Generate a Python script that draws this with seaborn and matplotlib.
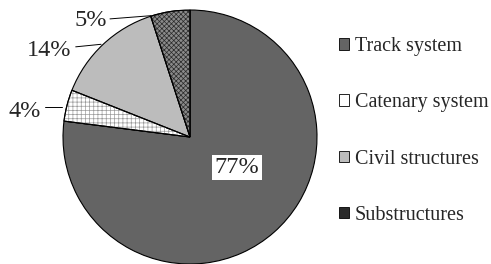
import matplotlib
matplotlib.use('Agg')
import matplotlib.pyplot as plt
import seaborn as sns
from matplotlib.patches import Patch, Wedge

sns.set_style("white")
plt.rcParams['font.family'] = ['Liberation Serif', 'DejaVu Serif']
plt.rcParams['hatch.linewidth'] = 0.5

categories = ['Track system', 'Catenary system', 'Civil structures', 'Substructures']
shares = [77, 4, 14, 5]
pct_labels = ['77%', '4%', '14%', '5%']
colors = ['#646464', '#ffffff', '#bcbcbc', '#8a8a8a']
hatches = [None, '++++', None, 'xxxxxxx']
hatch_colors = [None, '#9a9a9a', None, '#2a2a2a']

fig = plt.figure(figsize=(4.91, 2.64), dpi=100)
ax = fig.add_axes([63 / 491, 0, 254 / 491, 254 / 264])

wedges, _ = ax.pie(shares, colors=colors, startangle=90, counterclock=False,
                   wedgeprops=dict(edgecolor='black', linewidth=0.8))

# hatch overlays
for w, h, hc in zip(wedges, hatches, hatch_colors):
    if h is None:
        continue
    ov = Wedge(w.center, w.r, w.theta1, w.theta2, facecolor='none',
               edgecolor=hc, hatch=h, linewidth=0, zorder=w.get_zorder() + 0.1)
    ax.add_patch(ov)
    outline = Wedge(w.center, w.r, w.theta1, w.theta2, facecolor='none',
                    edgecolor='black', linewidth=0.8, zorder=w.get_zorder() + 0.2)
    ax.add_patch(outline)

ax.set_xlim(-1, 1)
ax.set_ylim(-1, 1)
ax.set_aspect('equal')
ax.axis('off')

# inside label
ax.text(0.37, -0.24, pct_labels[0], ha='center', va='center', fontsize=17.5,
        bbox=dict(facecolor='white', edgecolor='none', pad=1.5))

# outside labels with leader lines
outer = {
    1: ((-1.30, 0.20), (-1.14, 0.236), (-1.01, 0.236)),
    2: ((-1.11, 0.68), (-0.90, 0.71), (-0.70, 0.73)),
    3: ((-0.78, 0.92), (-0.63, 0.93), (-0.31, 0.955)),
}
for i, (tpos, p0, p1) in outer.items():
    ax.text(tpos[0], tpos[1], pct_labels[i], ha='center', va='center', fontsize=17.5, clip_on=False)
    ax.plot([p0[0], p1[0]], [p0[1], p1[1]], color='black', linewidth=0.7, clip_on=False)

handles = []
for c, h in zip(colors, hatches):
    if h == 'xxxxxxx':
        handles.append(Patch(facecolor='#2a2a2a', edgecolor='black', linewidth=0.6))
    else:
        handles.append(Patch(facecolor=c, edgecolor='black', linewidth=0.6))

fig.legend(handles, categories, loc='upper left', bbox_to_anchor=(339 / 491, 1 - 37 / 264),
           frameon=False, fontsize=14.5, handlelength=0.5, handleheight=0.5,
           handletextpad=0.3, labelspacing=1.85, borderpad=0, borderaxespad=0)

fig.savefig('out.png', dpi=100)
